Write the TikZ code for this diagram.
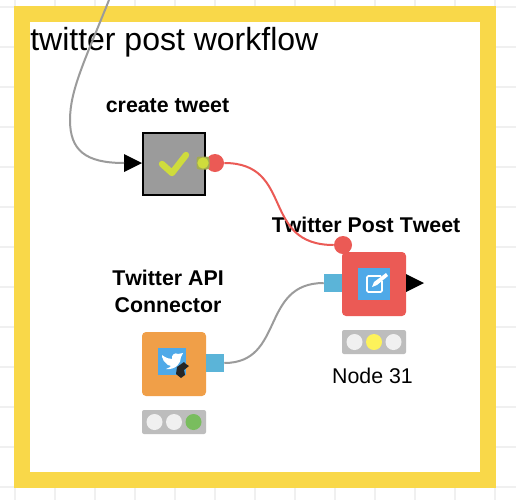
\documentclass[tikz,border=0pt]{standalone}
\usepackage{fontspec}
\setmainfont{Liberation Sans}
\definecolor{gridc}{HTML}{F0F0F0}
\definecolor{framec}{HTML}{F9D849}
\definecolor{wiregrey}{HTML}{9B9B9B}
\definecolor{wirered}{HTML}{EB5A55}
\definecolor{portblue}{HTML}{5BB4D8}
\definecolor{iconblue}{HTML}{4FA9E8}
\definecolor{orangec}{HTML}{F09F48}
\definecolor{lightbg}{HTML}{BDBDBD}
\definecolor{lightoff}{HTML}{F0F0F0}
\definecolor{lighty}{HTML}{FDF25A}
\definecolor{lightg}{HTML}{79BD5E}
\definecolor{checkc}{HTML}{CFDC3C}
\definecolor{oliveb}{HTML}{A3AB52}
\tikzset{
  x=0.75pt,y=-0.75pt,
  title/.style={font=\fontsize{24}{28}\selectfont,inner sep=0pt,anchor=base west},
  boldlabel/.style={font=\fontsize{16}{20}\selectfont\bfseries\addfontfeature{Kerning=Off},inner sep=0pt,align=center},
  plainlabel/.style={font=\fontsize{16}{20}\selectfont,inner sep=0pt},
  nodebox/.style={minimum size=48pt,inner sep=0pt,rounded corners=3pt},
  porthole/.style={circle,fill=wirered,minimum size=13.5pt,inner sep=0pt},
  dataport/.style={fill=portblue,minimum width=13.5pt,minimum height=13.5pt,inner sep=0pt},
  trafficbg/.style={fill=lightbg,minimum width=48pt,minimum height=18pt,inner sep=0pt,rounded corners=1.5pt},
  lamp/.style={circle,minimum size=12pt,inner sep=0pt},
  wire/.style={line width=1.5pt},
}
\begin{document}
\begin{tikzpicture}
\useasboundingbox (0,0) rectangle (516,500);
\clip (0,0) rectangle (516,500);
\fill[white] (0,0) rectangle (516,500);
% canvas grid
\foreach \gx in {15,55,...,495} \draw[gridc,line width=1.5pt] (\gx,0) -- (\gx,500);
\foreach \gy in {7,47,...,487} \draw[gridc,line width=1.5pt] (0,\gy) -- (516,\gy);
% annotation frame
\fill[framec] (14,6) rectangle (496,488);
\fill[white] (30,22) rectangle (480,472);
% labels
\node[title] (titletext) at (30,50) {twitter post workflow};
\node[boldlabel,anchor=base] (lblcreate) at (167.5,112) {create tweet};
\node[boldlabel,anchor=base] (lblpost) at (366,232) {Twitter Post Tweet};
\node[boldlabel,anchor=center] (lblapi) at (168,291.5) {Twitter API\\Connector};
\node[plainlabel,anchor=base] (lblnode) at (372.5,383) {Node 31};
% create tweet node
\node[nodebox,rounded corners=0pt,fill=wiregrey,draw=black,line width=1.5pt,minimum size=46.5pt] (create) at (174,164) {};
\fill[black] (124,154) -- (142,163) -- (124,172) -- cycle;
\coordinate (createin) at (124,163);
\draw[checkc,line width=4.8pt,line cap=round,line join=round] (162,164) -- (172,173) -- (186,155);
\node[porthole] (createout) at (215,163) {};
\fill[oliveb,rounded corners=2pt] (196.5,156.5) rectangle (209.5,169.5);
\node[circle,fill=checkc,minimum size=8.5pt,inner sep=0pt] (createflow) at (203,163) {};
% twitter post tweet node
\node[nodebox,fill=wirered] (post) at (374,284) {};
\fill[iconblue] (358,268) rectangle (390,300);
\draw[white,line width=1.3pt,rounded corners=1pt] (381,276) -- (367,276) -- (367,292) -- (382,292) -- (382,281);
\fill[white] (372,287) -- (374,282) -- (386,273) -- (388,276) -- (377,285) -- cycle;
\node[dataport] (postin) at (333,283) {};
\fill[black] (406,274) -- (424,283) -- (406,292) -- cycle;
\node[porthole] (postflow) at (343,245) {};
\node[trafficbg] (postlight) at (374,342) {};
\node[lamp,fill=lightoff] (pl1) at (354.5,342) {};
\node[lamp,fill=lighty] (pl2) at (374,342) {};
\node[lamp,fill=lightoff] (pl3) at (393.5,342) {};
% twitter api connector node
\node[nodebox,fill=orangec] (api) at (174,364) {};
\fill[iconblue] (158,348) rectangle (186,375);
\fill[white] (162,355) .. controls (166,358) and (169,359) .. (172,359) .. controls (171,355) and (175,352) .. (178,354) -- (183,353) -- (181,357) .. controls (181,363) and (176,370) .. (166,369) .. controls (169,368) and (170,367) .. (171,366) .. controls (168,366) and (167,364) .. (166,363) .. controls (164,362) and (163,360) .. (163,359) .. controls (162,358) and (162,356) .. (162,355) -- cycle;
\fill[black!85] (177,367) -- (184,362) -- (186,364) -- (189,366) -- (184,370) -- (185,375) -- (181,378) -- (176,374) -- cycle;
\node[dataport] (apiout) at (215,363) {};
\node[trafficbg] (apilight) at (174,422) {};
\node[lamp,fill=lightoff] (al1) at (154.5,422) {};
\node[lamp,fill=lightoff] (al2) at (174,422) {};
\node[lamp,fill=lightg] (al3) at (193.5,422) {};
% connectors
\coordinate (wiretop) at (109,0);
\draw[wire,wiregrey] (wiretop) .. controls (85,60) and (70,90) .. (70,120) .. controls (70,150) and (85,163) .. (createin);
\draw[wire,wirered] (createout.east) .. controls (295,163) and (260,245) .. (postflow.west);
\draw[wire,wiregrey] (apiout.east) .. controls (285,363) and (260,283) .. (postin.west);
\end{tikzpicture}
\end{document}
